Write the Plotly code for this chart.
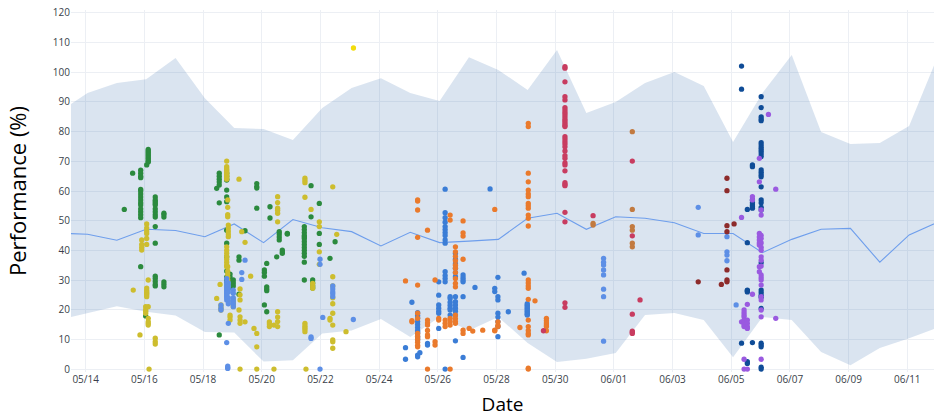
import pandas as pd
import plotly.graph_objects as go

# Daily envelope (upper / lower bound) and mean performance
band_days = pd.date_range("2020-05-13 01:30", "2020-06-12 01:30", freq="D")
upper_bound = [86.4, 93.0, 96.4, 97.7, 104.8, 91.3, 81.2, 80.9, 77.2, 88.0, 94.7, 98.0,
               93.0, 90.3, 105.1, 100.8, 94.0, 107.5, 86.3, 90.0, 96.4, 100.1, 95.4, 76.5,
               93.0, 105.8, 79.9, 75.8, 76.2, 81.9, 106.0]
lower_bound = [16.5, 18.8, 21.2, 19.3, 18.0, 12.5, 12.3, 2.5, 3.0, 12.0, 13.0, 16.9,
               10.8, 17.5, 13.0, 17.5, 8.8, 2.4, 3.5, 5.4, 18.2, 18.9, 16.5, 4.0,
               17.5, 16.5, 5.7, 1.3, 7.1, 10.4, 14.0]
mean_perf = [45.8, 45.4, 43.4, 47.1, 46.7, 44.6, 48.9, 42.6, 50.4, 47.6, 46.3, 41.5,
             46.1, 42.6, 43.1, 43.7, 50.8, 52.5, 47.1, 51.3, 50.8, 49.3, 45.7, 45.7,
             39.2, 43.7, 47.1, 47.4, 36.0, 45.2, 49.6]

# Individual sessions: (timestamp, performance values recorded at that time)
green_sessions = [
    ("2020-05-15 07:35", [53.8]),
    ("2020-05-15 14:25", [66.0]),
    ("2020-05-15 21:00", [67, 66, 65, 64.5, 60.5, 60, 59, 58, 57, 55.3, 56, 54, 53, 52, 51, 34.5]),
    ("2020-05-16 01:05", [17.9]),
    ("2020-05-16 01:55", [68.8]),
    ("2020-05-16 03:10", [74, 73.5, 73, 72.5, 72, 71.5, 71, 70.5, 70, 69.8]),
    ("2020-05-16 08:55", [58, 57, 56.5, 55.8, 55.3, 54, 53, 52, 51.2, 48, 42.4, 31.3, 30.5, 29.5, 28.5, 28]),
    ("2020-05-16 16:00", [52.5, 52, 51.2, 29.4, 28.6, 27.7]),
    ("2020-05-18 11:10", [60.9]),
    ("2020-05-18 13:15", [66, 65, 64, 63, 62, 56, 11.5]),
    ("2020-05-18 19:20", [66, 65, 64, 63.7, 60.3, 58, 56.4, 46.8, 42.4, 37.8, 33, 31, 30, 29.4]),
    ("2020-05-18 22:05", [32, 31, 30, 29, 28.2, 27.5]),
    ("2020-05-19 00:45", [30, 29, 28]),
    ("2020-05-19 05:25", [37.8, 36.7, 25.2]),
    ("2020-05-19 10:20", [46.6]),
    ("2020-05-19 19:55", [62.5, 61.5, 61, 54.2]),
    ("2020-05-20 02:10", [33.4, 32.5, 31.3, 21.6]),
    ("2020-05-20 04:05", [35.6, 27.7, 27, 26.4, 19.3]),
    ("2020-05-20 06:45", [54.7, 50.9]),
    ("2020-05-20 12:15", [37.8]),
    ("2020-05-20 14:20", [46.3, 45.5, 44.5, 43.5]),
    ("2020-05-20 16:50", [40.1, 39.5, 39]),
    ("2020-05-20 20:55", [45.7, 45.5]),
    ("2020-05-21 10:50", [48, 47, 46, 45, 44.5, 44, 43, 42, 41, 40, 39, 38, 36, 30]),
    ("2020-05-21 16:20", [61.8, 51.3]),
    ("2020-05-21 17:40", [30, 29, 28, 27.3]),
    ("2020-05-21 23:05", [55.8, 45.7, 42]),
    ("2020-05-22 07:50", [37.3]),
    ("2020-05-22 12:00", [42.9]),
]

yellow_sessions = [
    ("2020-05-15 14:55", [26.6]),
    ("2020-05-15 20:25", [11.5]),
    ("2020-05-15 21:50", [43.5, 42, 41, 40.1]),
    ("2020-05-16 01:05", [21, 20, 19.5, 18.8]),
    ("2020-05-16 01:55", [48.9, 47.5, 46.5, 45.7, 44, 42, 27.3, 26.5, 26, 25.5, 25, 24.4]),
    ("2020-05-16 03:10", [30, 21, 17.1, 16, 15.4, 14.8]),
    ("2020-05-16 03:50", [0]),
    ("2020-05-16 08:55", [10.4, 9.2, 8.4]),
    ("2020-05-18 11:10", [23.8]),
    ("2020-05-18 13:55", [28.5]),
    ("2020-05-18 14:40", [21.6, 20.8, 19.9]),
    ("2020-05-18 19:20", [70.1, 68.2, 67.5, 67, 66.5, 66, 65.5, 65, 64.5, 64,
                          41.2, 40, 39, 38, 37, 36, 35, 34.5]),
    ("2020-05-18 20:10", [57, 54.5, 52, 51.3, 34.5, 33, 32, 31, 30, 29, 28, 27.7]),
    ("2020-05-18 20:40", [48.5, 47.5, 46.5, 45.5, 44.6]),
    ("2020-05-18 22:05", [18.2, 17.5, 16.5]),
    ("2020-05-19 00:45", [23.3, 22.5, 21.7, 21]),
    ("2020-05-19 05:25", [64, 19.9]),
    ("2020-05-19 06:15", [27, 25, 23.3, 17.6, 16.5, 15.4, 0]),
    ("2020-05-19 07:40", [46.3]),
    ("2020-05-19 10:20", [42.7, 15.9]),
    ("2020-05-19 14:55", [31.3]),
    ("2020-05-19 17:40", [13.7]),
    ("2020-05-19 19:55", [12, 7.5, 0]),
    ("2020-05-20 06:15", [15.9, 15.2, 14.3]),
    ("2020-05-20 10:00", [14.8, 0]),
    ("2020-05-20 13:00", [58.1, 56.1, 54.2, 53.5, 52.5, 49.6, 19.3, 17.5, 16, 14.3]),
    ("2020-05-21 11:20", [64.3, 63.5, 62.8, 57.9, 15.4, 14.6, 14, 13.4, 12.6]),
    ("2020-05-21 12:10", [0]),
    ("2020-05-21 16:20", [53.8]),
    ("2020-05-21 17:40", [28.9, 28, 27.2]),
    ("2020-05-21 23:05", [49.6, 48, 39.5, 35.3]),
    ("2020-05-22 07:50", [17.1, 16.5]),
    ("2020-05-22 10:05", [61.4, 31.1, 28, 24, 22, 18.8, 14.8, 9.8, 9.2, 7]),
    ("2020-05-22 13:20", [45.4]),
    ("2020-05-22 20:55", [12.6]),
]

gold_sessions = [
    ("2020-05-23 03:00", [108.2]),
]

light_blue_sessions = [
    ("2020-05-18 14:40", [21.5, 20.5, 19.9]),
    ("2020-05-18 19:20", [30.5, 29.4, 28.5, 28, 27.5, 27, 26.5, 26, 25.5, 25, 24.5, 24, 23.3, 8.9]),
    ("2020-05-18 20:10", [0.2, 0.5, 1]),
    ("2020-05-18 20:40", [29, 28, 27, 26, 24, 23, 22, 15.4]),
    ("2020-05-19 00:45", [26.6, 25.5, 24, 23, 22, 21]),
    ("2020-05-19 07:40", [32.5, 30.2]),
    ("2020-05-19 10:20", [36.7]),
    ("2020-05-21 16:20", [10.3, 10.8]),
    ("2020-05-21 23:40", [37, 35.3, 0]),
    ("2020-05-22 01:55", [17.4]),
    ("2020-05-22 10:05", [28, 27, 26, 25.3, 24.4]),
    ("2020-05-23 02:55", [16.7]),
    ("2020-05-31 15:35", [37.3, 36, 35.1, 33.4, 31.7, 26.9, 24.4, 9.4]),
    ("2020-06-03 21:00", [54.5, 45.2]),
    ("2020-06-04 20:30", [44.6, 39.5, 38.4, 36.5]),
    ("2020-06-05 04:00", [21.6]),
]

blue_sessions = [
    ("2020-05-24 21:35", [7.2, 3.3]),
    ("2020-05-25 02:50", [22.5]),
    ("2020-05-25 07:30", [19, 18, 17.2, 16, 15, 14, 13, 12.6, 12, 11, 10.5, 9.8, 4.7, 4.1]),
    ("2020-05-25 09:20", [5.5]),
    ("2020-05-25 15:35", [8.1, 8.6]),
    ("2020-05-26 00:45", [29.4, 24.9, 21.6, 20.5, 19.5, 18.8, 13.7]),
    ("2020-05-26 06:00", [60.6, 52.7, 51, 49.5, 48, 47, 46, 45, 43.5, 42.4, 32.8, 31.5, 30.5, 29.4, 0]),
    ("2020-05-26 10:05", [24.4, 23.8, 22.5, 21.5, 20.5, 19.9, 18.2]),
    ("2020-05-26 14:25", [39, 37, 35.5, 34, 32.5, 31.1, 24.4, 22.7, 21.6, 20.5, 19.5, 18.2, 9.5]),
    ("2020-05-26 20:40", [31.7, 30.8, 30, 29.4, 24.4, 3.9]),
    ("2020-05-27 06:25", [27.5]),
    ("2020-05-27 18:45", [60.7]),
    ("2020-05-27 22:35", [27.2, 26.1]),
    ("2020-05-28 01:10", [30.9, 24.4, 23.3, 18.8, 17.5, 16, 14.3, 10.9]),
    ("2020-05-28 09:40", [19.3]),
    ("2020-05-28 22:35", [32.3]),
    ("2020-05-29 01:10", [22, 21.5, 21, 20.5, 20, 19.5, 19, 18.5, 18.2]),
]

orange_sessions = [
    ("2020-05-24 21:35", [29.7]),
    ("2020-05-25 02:50", [16.3, 15.9]),
    ("2020-05-25 07:30", [57, 56.6, 53.6, 44.4, 28.3, 18.8, 17.1, 12, 11, 10, 9, 8, 7.5]),
    ("2020-05-25 15:35", [46.8, 16.5, 15.5, 14.8, 13, 11.5, 10.9, 0]),
    ("2020-05-25 21:45", [30, 9.2, 8.1]),
    ("2020-05-26 00:45", [17.1, 16.5]),
    ("2020-05-26 06:00", [16.5, 15.4, 14.3]),
    ("2020-05-26 10:05", [51.9, 50.2, 17.1, 16, 14.8, 0]),
    ("2020-05-26 14:25", [41.2, 39.5, 38, 36.5, 35, 34, 32.5, 30.5, 28.9, 27.7, 18.2, 17, 16, 15.4]),
    ("2020-05-26 20:40", [49.9, 45.9, 44.8, 37, 13.1, 12]),
    ("2020-05-27 01:40", [13.7]),
    ("2020-05-27 04:35", [12.8]),
    ("2020-05-27 12:45", [13.1]),
    ("2020-05-27 22:35", [53.8, 13.1, 12.9]),
    ("2020-05-28 01:10", [15.9, 14.8, 14.3]),
    ("2020-05-28 19:10", [14]),
    ("2020-05-29 02:00", [82.8, 81.7, 66, 63.1, 60.3, 59, 58.1, 55.8, 55, 54.2, 51.9, 50.8, 48.2,
                          30, 29, 28, 27.2, 23.5, 16.5, 14.3, 13, 12, 11.5, 0, 0.3]),
    ("2020-05-29 07:30", [23]),
    ("2020-05-29 16:50", [17.1, 16.3, 15.5, 14.8, 14.3, 12.9]),
]

crimson_sessions = [
    ("2020-05-29 14:25", [12.9]),
    ("2020-05-30 08:00", [101.9, 101.4, 96.8, 91.8, 90.7, 88.1, 87.3, 86.5, 85.8, 85, 84.2, 83.5,
                          82.8, 82.2, 81.7, 78.3, 77.5, 76.6, 75.8, 74.9, 73.5, 71.9, 71, 69.5,
                          68.8, 66.8, 62.8, 62.2, 61.8, 52.8, 49.6, 22.3, 20.8]),
    ("2020-05-31 07:00", [51.7]),
    ("2020-06-01 15:05", [70.1, 44.9, 18.5, 12.8, 12.4, 12]),
    ("2020-06-01 21:25", [23.3]),
]

tan_sessions = [
    ("2020-05-31 07:00", [49.1, 48.5]),
    ("2020-06-01 15:05", [80, 53.8, 48, 46.8, 42.4, 41.2]),
]

maroon_sessions = [
    ("2020-06-03 21:00", [29.4]),
    ("2020-06-04 15:55", [28.5]),
    ("2020-06-04 20:30", [64.3, 60.1, 48.3, 46.3, 33.4, 30, 29.4]),
    ("2020-06-05 02:20", [48.9]),
]

navy_sessions = [
    ("2020-06-05 08:25", [102.1, 94.3, 8.7]),
    ("2020-06-05 13:10", [53.8, 42.6, 26.6, 26.4, 26, 2.5, 1.9]),
    ("2020-06-05 17:20", [68.8, 68.2, 57, 56, 55.3, 54.7, 54.2, 8.9]),
    ("2020-06-06 00:30", [91.8, 88.1, 85, 84.3, 83.7, 76.3, 75.5, 74.7, 74, 73.3, 72.5, 71.6,
                          67.1, 66.3, 65.5, 64.8, 61.4, 57, 56, 54.5, 53.6, 35.8, 26.6, 25.8,
                          24.9, 24.2, 20.4, 8.7, 8.1, 7.5, 0.6, 0]),
]

purple_sessions = [
    ("2020-06-05 08:25", [51.1, 15.9]),
    ("2020-06-05 10:30", [19.9, 19, 18.2, 17.6, 16.5, 15.5, 14.8, 14.3, 3.3, 0]),
    ("2020-06-05 13:10", [21.8, 16.5, 15.4, 14.3, 13.7, 0]),
    ("2020-06-05 17:20", [58.1, 57, 25.2]),
    ("2020-06-05 23:00", [71, 63.1, 45.7, 44.5, 43.5, 42.5, 41.8, 34.5, 32.8]),
    ("2020-06-06 00:30", [53.6, 51.9, 45, 44, 42.5, 41, 40, 37.8, 36.7, 34.7, 31.7, 30.8,
                          30, 28.3, 24.4, 23.3, 19.9, 17.6, 3.3]),
    ("2020-06-06 06:25", [85.8]),
    ("2020-06-06 12:25", [60.6, 17.1]),
]

series = [
    (green_sessions, "#2b8a3e"),
    (yellow_sessions, "#cdbd2e"),
    (gold_sessions, "#f2dc0c"),
    (light_blue_sessions, "#5d8fe6"),
    (blue_sessions, "#3b7dd6"),
    (orange_sessions, "#ea7a2c"),
    (crimson_sessions, "#c83c60"),
    (tan_sessions, "#c27a40"),
    (maroon_sessions, "#8d2b2b"),
    (navy_sessions, "#0f4c97"),
    (purple_sessions, "#9a5ae0"),
]

fig = go.Figure()

# Envelope band
fig.add_trace(go.Scatter(x=band_days, y=upper_bound, mode="lines",
                         line=dict(width=0), showlegend=False, hoverinfo="skip"))
fig.add_trace(go.Scatter(x=band_days, y=lower_bound, mode="lines",
                         line=dict(width=0), fill="tonexty",
                         fillcolor="rgba(70,120,180,0.2)",
                         showlegend=False, hoverinfo="skip"))
# Mean line
fig.add_trace(go.Scatter(x=band_days, y=mean_perf, mode="lines",
                         line=dict(color="#6e9eec", width=1.1), showlegend=False))

for sessions, color in series:
    xs, ys = [], []
    for ts, vals in sessions:
        for v in vals:
            xs.append(pd.Timestamp(ts))
            ys.append(v)
    fig.add_trace(go.Scatter(x=xs, y=ys, mode="markers",
                             marker=dict(color=color, size=5.3, line=dict(width=0)),
                             showlegend=False))

fig.update_layout(
    width=934, height=419,
    margin=dict(l=71, r=0, t=10, b=47),
    paper_bgcolor="white", plot_bgcolor="white",
    font=dict(family="Open Sans", color="#3a3f4a"),
    showlegend=False,
)
fig.update_xaxes(
    range=["2020-05-13 12:00", "2020-06-11 21:50"],
    tickformat="%m/%d", dtick=2 * 86400000, tick0="2020-05-14",
    showgrid=True, gridcolor="#eceff4", gridwidth=1,
    zeroline=False, showline=False, ticks="",
    tickfont=dict(size=10, color="#3a3f4a"),
    title=dict(text="Date", font=dict(size=19, color="black", family="Open Sans"), standoff=12),
)
fig.update_yaxes(
    range=[-1, 121], dtick=10, tick0=0,
    showgrid=True, gridcolor="#eceff4", gridwidth=1,
    zeroline=False, showline=False, ticks="",
    tickfont=dict(size=10, color="#3a3f4a"),
    title=dict(text="Performance (%)", font=dict(size=22, color="black", family="Open Sans"), standoff=20),
)

fig.write_html("out.html")
